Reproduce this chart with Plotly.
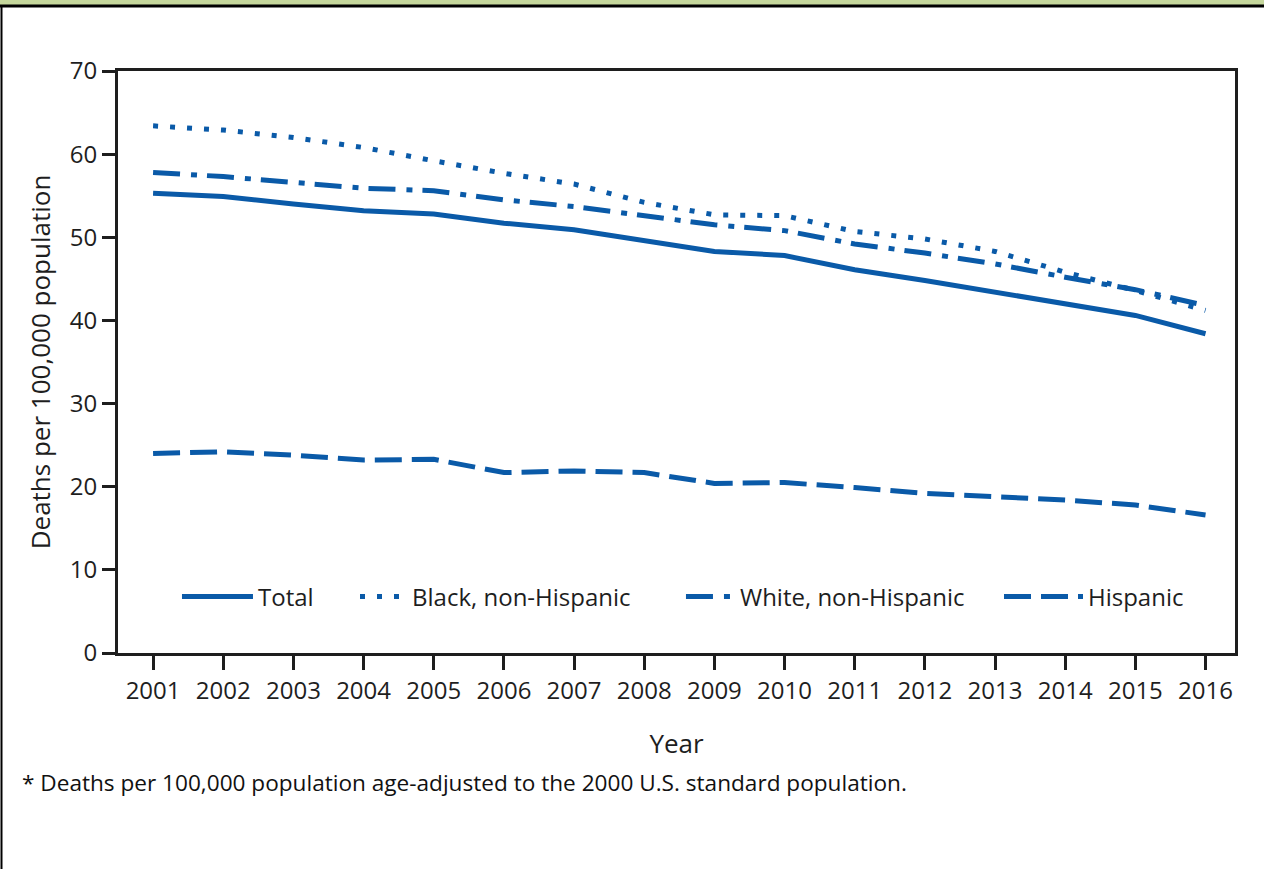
import plotly.graph_objects as go

years = list(range(2001, 2017))
total = [55.3, 54.9, 54.0, 53.2, 52.8, 51.7, 50.9, 49.6, 48.3, 47.8, 46.1, 44.8, 43.4, 42.1, 40.6, 38.4]
black = [63.4, 62.9, 62.0, 60.8, 59.2, 57.7, 56.4, 54.2, 52.7, 52.6, 50.7, 49.8, 48.3, 45.8, 43.6, 41.2]
white = [57.8, 57.3, 56.6, 55.9, 55.6, 54.5, 53.7, 52.6, 51.5, 50.8, 49.2, 48.1, 46.8, 45.2, 43.7, 41.8]
hispanic = [24.0, 24.2, 23.8, 23.2, 23.3, 21.7, 21.9, 21.7, 20.4, 20.5, 19.9, 19.2, 18.8, 18.4, 17.8, 16.6]

series_names = ["Total", "Black, non-Hispanic", "White, non-Hispanic", "Hispanic"]
series_values = [total, black, white, hispanic]
series_dash = ["solid", "5px,12px", "27px,11px,6px,10px", "27px,10px"]

BLUE = "#0a5aa8"
FONT = "Open Sans"
INK = "#1e1e1e"

# one legend per series so each entry can sit where the original puts it
legend_ids = ["legend", "legend2", "legend3", "legend4"]
legend_x = [0.0528, 0.2122, 0.5040, 0.7887]
legend_sample = [71, 47, 49, 79]

fig = go.Figure()
for name, values, dash, lid in zip(series_names, series_values, series_dash, legend_ids):
    fig.add_trace(
        go.Scatter(
            x=years,
            y=values,
            mode="lines",
            name=name,
            legend=lid,
            showlegend=True,
            line=dict(color=BLUE, width=5, dash=dash),
        )
    )

axis_common = dict(
    showline=True,
    linecolor=INK,
    linewidth=3,
    mirror=True,
    ticks="outside",
    tickwidth=3,
    tickcolor=INK,
    showgrid=False,
    zeroline=False,
    tickfont=dict(family=FONT, size=24, color=INK),
)

fig.update_xaxes(
    range=[2000.5, 2016.42],
    tickmode="array",
    tickvals=years,
    ticklen=14,
    title=dict(text="Year", font=dict(family=FONT, size=26, color=INK), standoff=31),
    **axis_common,
)
fig.update_yaxes(
    range=[0, 70],
    dtick=10,
    ticklen=13,
    title=dict(text="Deaths per 100,000 population", font=dict(family=FONT, size=26, color=INK), standoff=12),
    **axis_common,
)

# page frame: green header band, rule beneath it, left border
fig.add_shape(type="rect", xref="paper", yref="paper", x0=-0.2, x1=1.1, y0=1.1125, y1=1.14,
              fillcolor="#c5d79c", line_width=0, layer="below")
fig.add_shape(type="line", xref="paper", yref="paper", x0=-0.2, x1=1.1, y0=1.1115, y1=1.1115,
              line=dict(color="black", width=3))
fig.add_shape(type="line", xref="paper", yref="paper", x0=-0.1043, x1=-0.1043, y0=1.1115, y1=-0.5,
              line=dict(color="black", width=2))

fig.add_annotation(
    text="* Deaths per 100,000 population age-adjusted to the 2000 U.S. standard population.",
    xref="paper", yref="paper", x=-0.088, y=-0.223, xanchor="left", yanchor="middle",
    showarrow=False, font=dict(family=FONT, size=22.6, color="#111111"),
)

legend_layout = {}
for lid, lx, lw in zip(legend_ids, legend_x, legend_sample):
    legend_layout[lid] = dict(
        orientation="h",
        x=lx,
        y=0.0962,
        xanchor="left",
        yanchor="middle",
        font=dict(family=FONT, size=24, color=INK),
        bgcolor="rgba(0,0,0,0)",
        itemwidth=lw,
    )

fig.update_layout(
    width=1264,
    height=869,
    showlegend=True,
    paper_bgcolor="white",
    plot_bgcolor="white",
    margin=dict(l=118, r=29, t=71, b=216),
    font=dict(family=FONT),
    **legend_layout,
)

fig.write_html(
    "out.html",
    config={"displayModeBar": False},
    post_script="document.body.style.margin='0';",
)
